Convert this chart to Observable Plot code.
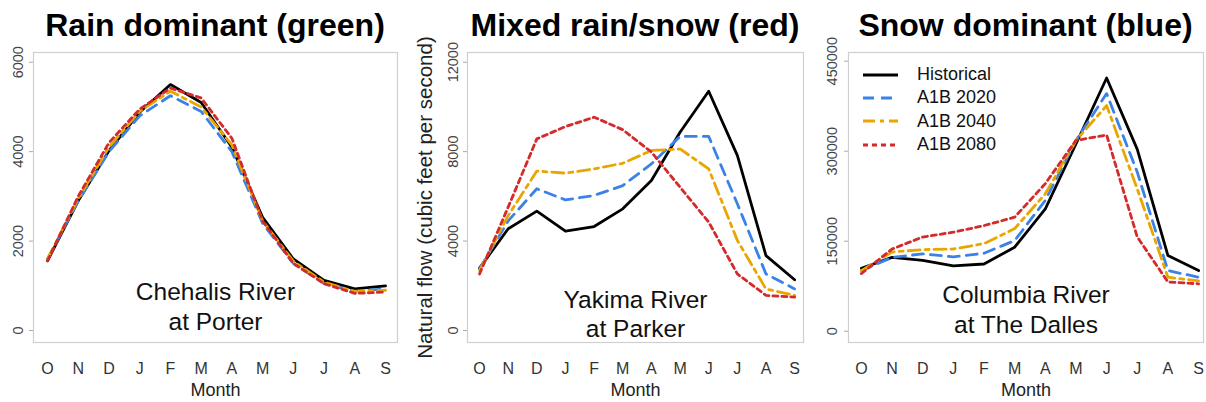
<!DOCTYPE html>
<html><head><meta charset="utf-8">
<script src="https://cdn.jsdelivr.net/npm/d3@7"></script>
<script src="https://cdn.jsdelivr.net/npm/@observablehq/plot@0.6"></script>
<style>
body{margin:0;background:#fff;font-family:"Liberation Sans",Arial,sans-serif;}
#root{position:relative;width:1206px;height:402px;overflow:hidden;background:#fff;}
.title{position:absolute;top:9px;font-weight:bold;font-size:32px;line-height:32px;white-space:nowrap;transform:translateX(-50%);color:#000;}
.panel{position:absolute;top:40px;}
.legend{position:absolute;left:862px;top:63px;font-size:18px;color:#111;}
.legend .row{height:23.3px;display:flex;align-items:center;}
.legend svg{margin-right:18px;}
</style></head><body><div id="root"></div>
<script>
const months = ["Oct","Nov","Dec","Jan","Feb","Mar","Apr","May","Jun","Jul","Aug","Sep"];
const monthLetters = ["O","N","D","J","F","M","A","M","J","J","A","S"];
const seriesNames = ["Historical","A1B 2020","A1B 2040","A1B 2080"];
const titles = ["Rain dominant (green)","Mixed rain/snow (red)","Snow dominant (blue)"];
const rivers = ["Chehalis River\nat Porter","Yakima River\nat Parker","Columbia River\nat The Dalles"];
const yLabel = "Natural flow (cubic feet per second)";

const chehalisHist = [1560, 2900, 4020, 4880, 5500, 5100, 4100, 2530, 1600, 1120, 930, 1000];
const chehalis2020 = [1600, 2900, 4000, 4800, 5250, 4900, 4000, 2400, 1500, 1050, 880, 930];
const chehalis2040 = [1600, 2950, 4100, 4900, 5350, 5000, 4150, 2450, 1550, 1080, 870, 900];
const chehalis2080 = [1560, 3000, 4200, 4950, 5420, 5200, 4300, 2450, 1500, 1050, 830, 860];

const yakimaHist = [2790, 4550, 5340, 4440, 4650, 5440, 6710, 8870, 10700, 7830, 3350, 2270];
const yakima2020 = [2750, 4900, 6340, 5840, 6040, 6480, 7450, 8680, 8680, 5670, 2530, 1860];
const yakima2040 = [2680, 5140, 7130, 7040, 7230, 7480, 8050, 8120, 7230, 4030, 1860, 1570];
const yakima2080 = [2530, 5520, 8570, 9120, 9540, 8980, 7980, 6410, 4850, 2530, 1570, 1490];

const columbiaHist = [105000, 123000, 118000, 109000, 112000, 140000, 204000, 312000, 422000, 303000, 126000, 101000];
const columbia2020 = [101000, 123000, 129000, 124000, 130000, 151000, 218000, 318000, 396000, 265000, 101000, 90000];
const columbia2040 = [101000, 132000, 136000, 137000, 146000, 171000, 229000, 318000, 376000, 237000, 90000, 84000];
const columbia2080 = [96000, 137000, 157000, 165000, 176000, 190000, 246000, 318000, 327000, 157000, 82000, 79000];

const chehalisTicks = [0, 2000, 4000, 6000];
const yakimaTicks = [0, 4000, 8000, 12000];
const columbiaTicks = [0, 150000, 300000, 450000];

const styles = [
  {stroke:"#000000", dash:null},
  {stroke:"#3b82e8", dash:"11,7"},
  {stroke:"#eaa600", dash:"12,5,4,5"},
  {stroke:"#d42a2a", dash:"5,4"}
];

const root = document.getElementById("root");

function panel(opts){
  const {series, left, width, ml, xd, yd, ticks, tickDx, note, noteDy, noteLH, showYLabel} = opts;
  const idx = months.map((m,i)=>i);
  const marks = [
    Plot.frame({stroke:"#cfcfcf", strokeWidth:1.2}),
    Plot.axisY({ticks, tickSize:4, tickFormat:()=>"", label:null, stroke:"#aaa"}),
    Plot.text(ticks, {y:d=>d, text:d=>String(d), frameAnchor:"left", dx:tickDx, rotate:-90, textAnchor:"middle", lineAnchor:"middle", fontSize:14.5, fill:"#444"}),
    Plot.axisX({ticks: idx, tickFormat:i=>monthLetters[i], tickSize:0, tickPadding:20, fontSize:16, fill:"#333", label:null}),
    Plot.text(["Month"], {frameAnchor:"bottom", dy:48, lineAnchor:"middle", fontSize:18, fill:"#222"}),
    Plot.text([note], {frameAnchor:"bottom", dy:noteDy, lineAnchor:"middle", fontSize:24.5, lineHeight:noteLH, fill:"#111"})
  ];
  if (showYLabel) marks.push(Plot.text([yLabel], {frameAnchor:"left", dx:-42, rotate:-90, textAnchor:"middle", lineAnchor:"middle", fontSize:20.5, fill:"#222"}));
  series.forEach((arr, k) => {
    const rows = arr.map((v,i)=>({i, v}));
    marks.push(Plot.line(rows, {x:"i", y:"v", stroke:styles[k].stroke, strokeWidth:2.8, strokeDasharray:styles[k].dash, strokeLinejoin:"round"}));
  });
  const svg = Plot.plot({
    width, height:362,
    marginLeft:ml, marginRight:3, marginTop:12, marginBottom:60,
    style:{fontFamily:"'Liberation Sans', Arial, sans-serif", background:"transparent", overflow:"visible"},
    x:{type:"linear", domain:xd},
    y:{type:"linear", domain:yd},
    marks
  });
  const div = document.createElement("div");
  div.className = "panel";
  div.style.left = left + "px";
  div.appendChild(svg);
  root.appendChild(div);
}

panel({series:[chehalisHist, chehalis2020, chehalis2040, chehalis2080], left:0, width:400, ml:33,
  xd:[-0.456, 11.39], yd:[-268, 6217], ticks:chehalisTicks, tickDx:-15, note:rivers[0], noteDy:-37, noteLH:1.22});
panel({series:[yakimaHist, yakima2020, yakima2040, yakima2080], left:400, width:406, ml:67,
  xd:[-0.42, 11.31], yd:[-537, 12434], ticks:yakimaTicks, tickDx:-14, note:rivers[1], noteDy:-29.5, noteLH:1.18, showYLabel:true});
panel({series:[columbiaHist, columbia2020, columbia2040, columbia2080], left:806, width:400, ml:42,
  xd:[-0.42, 11.16], yd:[-18800, 464500], ticks:columbiaTicks, tickDx:-16, note:rivers[2], noteDy:-34, noteLH:1.22});

const centers = [215, 635, 1025.5];
titles.forEach((t,i)=>{
  const d = document.createElement("div");
  d.className = "title";
  d.style.left = centers[i] + "px";
  d.textContent = t;
  root.appendChild(d);
});

const leg = document.createElement("div");
leg.className = "legend";
seriesNames.forEach((name,k)=>{
  const row = document.createElement("div");
  row.className = "row";
  const ns = "http://www.w3.org/2000/svg";
  const s = document.createElementNS(ns, "svg");
  s.setAttribute("width", 37); s.setAttribute("height", 10);
  const l = document.createElementNS(ns, "line");
  l.setAttribute("x1", 1); l.setAttribute("x2", 36); l.setAttribute("y1", 5); l.setAttribute("y2", 5);
  l.setAttribute("stroke", styles[k].stroke); l.setAttribute("stroke-width", 2.8);
  if (styles[k].dash) l.setAttribute("stroke-dasharray", styles[k].dash);
  s.appendChild(l);
  row.appendChild(s);
  const span = document.createElement("span");
  span.textContent = name;
  row.appendChild(span);
  leg.appendChild(row);
});
root.appendChild(leg);
</script></body></html>
